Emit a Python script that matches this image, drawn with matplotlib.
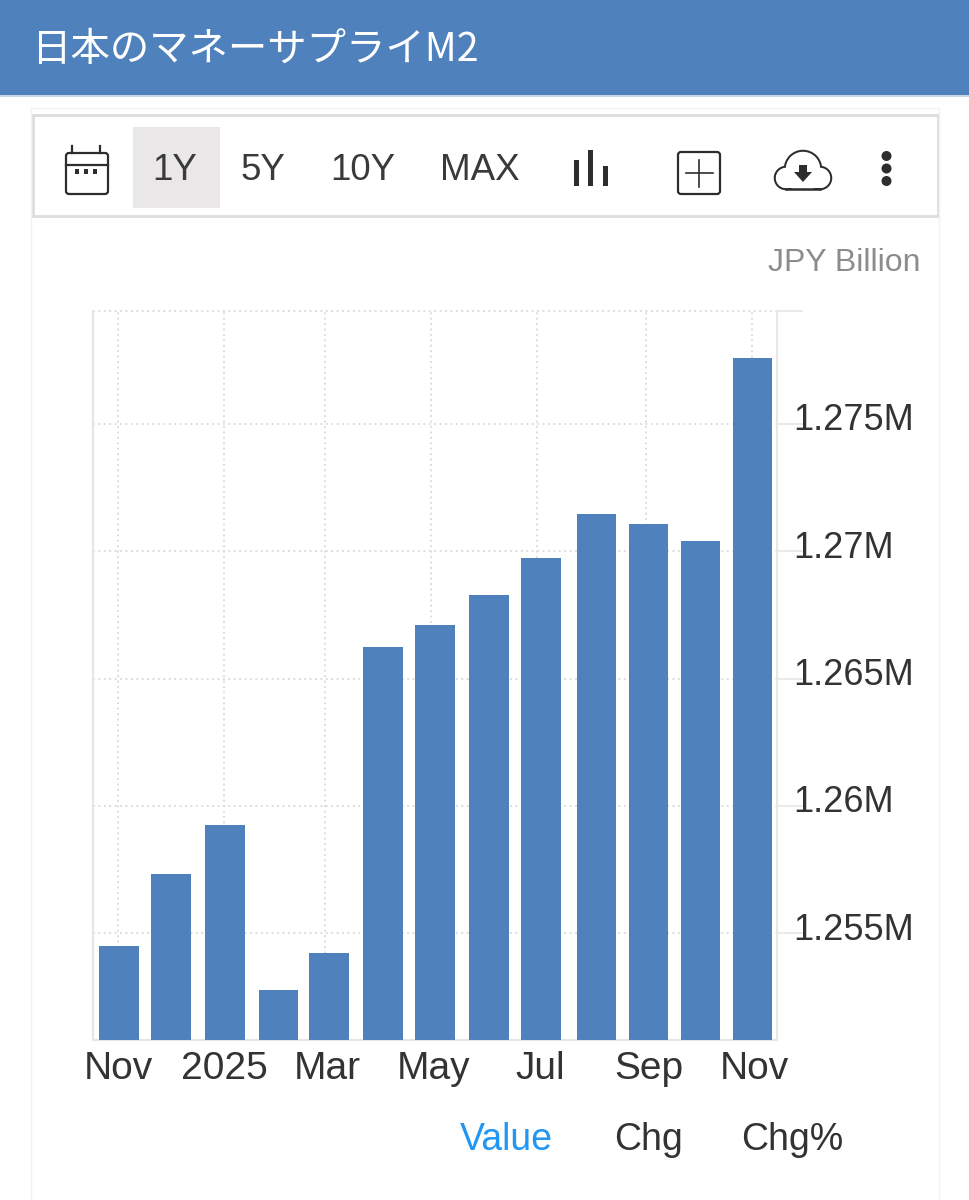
import matplotlib
matplotlib.use('Agg')
import matplotlib.pyplot as plt
from matplotlib.patches import Circle, FancyBboxPatch, Polygon, Rectangle
from matplotlib.transforms import ScaledTranslation
from datetime import date, datetime

plt.rcParams['font.family'] = ['Liberation Sans', 'Noto Sans CJK JP', 'DejaVu Sans']

# The data.
months = ['2024-11-01', '2024-12-01', '2025-01-01', '2025-02-01', '2025-03-02',
          '2025-04-02', '2025-05-02', '2025-06-02', '2025-07-02', '2025-08-03',
          '2025-09-02', '2025-10-02', '2025-11-01']
values = [1254489, 1257318, 1259244, 1252760, 1254214, 1266238, 1267102,
          1268281, 1269735, 1271464, 1271071, 1270403, 1277593]
y_ticks = [1255000, 1260000, 1265000, 1270000, 1275000]
y_labels = ['1.255M', '1.26M', '1.265M', '1.27M', '1.275M']
x_ticks = ['2024-10-31T12:00', '2024-12-31T12:00', '2025-02-27T12:00', '2025-04-29T12:00',
           '2025-06-30T00:00', '2025-08-31T12:00', '2025-10-31T12:00']
x_labels = ['Nov', '2025', 'Mar', 'May', 'Jul', 'Sep', 'Nov']
range_buttons = ['1Y', '5Y', '10Y', 'MAX']
range_x = [175, 263, 363, 480]
tabs = ['Value', 'Chg', 'Chg%']
tab_x = [506, 649, 792]
tab_colors = ['#2196f3', '#333333', '#333333']

BLUE = '#4f81bd'
DARK = '#2d2d2d'
W, H = 970, 1200

fig = plt.figure(figsize=(W / 100, H / 100), dpi=100, facecolor='white')

# A layer in pixel coordinates for the page around the chart.
page = fig.add_axes([0, 0, 1, 1])
page.set_xlim(0, W)
page.set_ylim(H, 0)
page.axis('off')

# Header and the faint card outline.
page.add_patch(Rectangle((0, 0), W, 95, color=BLUE, lw=0))
page.add_patch(Rectangle((0, 95), W, 2, color='#c9d6e6', lw=0))
page.text(31, 50, '日本のマネーサプライM2', color='white', fontsize=28.4,
          va='center', ha='left', family=['Noto Sans CJK JP', 'DejaVu Sans'])
page.plot([31, 31], [108, H], color='#f2f2f2', lw=1)
page.plot([939, 939], [108, H], color='#f2f2f2', lw=1)
page.plot([31, 939], [108, 108], color='#f2f2f2', lw=1)

# Toolbar.
page.add_patch(Rectangle((33, 115), 905, 101, fc='white', ec='#dddddd', lw=2))
page.add_patch(Rectangle((133, 127), 87, 81, color='#e9e7e8', lw=0))
for label, x in zip(range_buttons, range_x):
    page.text(x, 171, label, color='#3a3a3a', fontsize=26.5, ha='center', va='center')

# Calendar icon.
page.add_patch(FancyBboxPatch((66, 153), 42, 41, boxstyle='round,pad=0,rounding_size=3',
                              fc='white', ec=DARK, lw=1.6))
page.plot([66, 108], [165, 165], color=DARK, lw=1.6)
page.plot([72, 72], [146, 153], color=DARK, lw=1.6)
page.plot([100, 100], [146, 153], color=DARK, lw=1.6)
for x in [77, 86, 95]:
    page.add_patch(Rectangle((x - 2, 169), 4, 5, color=DARK, lw=0))

# Bar chart icon.
for x, top in zip([577, 591, 606], [160, 150, 166]):
    page.add_patch(Rectangle((x - 2.5, top), 5, 186 - top, color=DARK, lw=0))

# Plus box icon.
page.add_patch(FancyBboxPatch((678, 152), 42, 42, boxstyle='round,pad=0,rounding_size=3',
                              fc='white', ec=DARK, lw=1.6))
page.plot([699, 699], [160, 187], color=DARK, lw=1.2)
page.plot([686, 713], [173, 173], color=DARK, lw=1.2)

# Cloud download icon.
lobes = [(803, 169, 18), (786, 178, 11), (820, 178, 11)]
for x, y, r in lobes:
    page.add_patch(Circle((x, y), r, fc='white', ec=DARK, lw=1.8))
for x, y, r in lobes:
    page.add_patch(Circle((x, y), r - 0.8, fc='white', ec='none'))
page.add_patch(Rectangle((786, 170), 34, 18.2, color='white', lw=0))
page.plot([786, 820], [189, 189], color=DARK, lw=1.8)
page.add_patch(Rectangle((799, 165), 8, 8, color=DARK, lw=0))
page.add_patch(Polygon([(794, 172), (812, 172), (803, 182)], color=DARK, lw=0))

# Kebab menu.
for y in [156, 168.5, 181]:
    page.add_patch(Circle((886.5, y), 5, color=DARK, lw=0))

page.text(921, 263, 'JPY Billion', color='#8c8c8c', fontsize=23, ha='right', va='center')

for label, x, color in zip(tabs, tab_x, tab_colors):
    page.text(x, 1140, label, color=color, fontsize=27, ha='center', va='center')

# The chart itself.
left, right, top, bottom = 93, 777, 311, 1040
ax = fig.add_axes([left / W, 1 - bottom / H, (right - left) / W, (bottom - top) / H])
ax.patch.set_alpha(0)

bar_dates = [date.fromisoformat(m) for m in months]
ax.bar(bar_dates, values, width=22.7, color=BLUE, zorder=3)
ax.set_xlim(date(2024, 10, 17), date(2025, 11, 15))
ax.set_ylim(1250796, 1279440)
ax.xaxis_date()

ax.set_xticks([datetime.fromisoformat(d) for d in x_ticks])
ax.set_xticklabels(x_labels)
ax.set_yticks(y_ticks + [1279440])
ax.set_yticklabels(y_labels + [''])
ax.yaxis.tick_right()

ax.grid(True, color='#d8d8d8', linestyle=(0, (1, 2)), linewidth=1.3, zorder=0)
ax.get_ygridlines()[-1].set_clip_on(False)
ax.tick_params(axis='x', length=0, pad=8, labelsize=28, labelcolor='#333333')
ax.tick_params(axis='y', length=19, width=1.2, color='#e6e6e6', pad=-7.5,
               labelsize=26, labelcolor='#333333')
for label in ax.get_yticklabels():
    label.set_transform(label.get_transform() + ScaledTranslation(0, 7 / 100, fig.dpi_scale_trans))
# From Mar on the month labels sit a little right of their grid lines.
for label in ax.get_xticklabels()[2:]:
    label.set_transform(label.get_transform() + ScaledTranslation(3 / 100, 0, fig.dpi_scale_trans))

for side in ['left', 'right', 'bottom']:
    ax.spines[side].set_color('#e6e6e6')
    ax.spines[side].set_linewidth(1.5)
ax.spines['top'].set_visible(False)

fig.savefig('out.png', dpi=100)
